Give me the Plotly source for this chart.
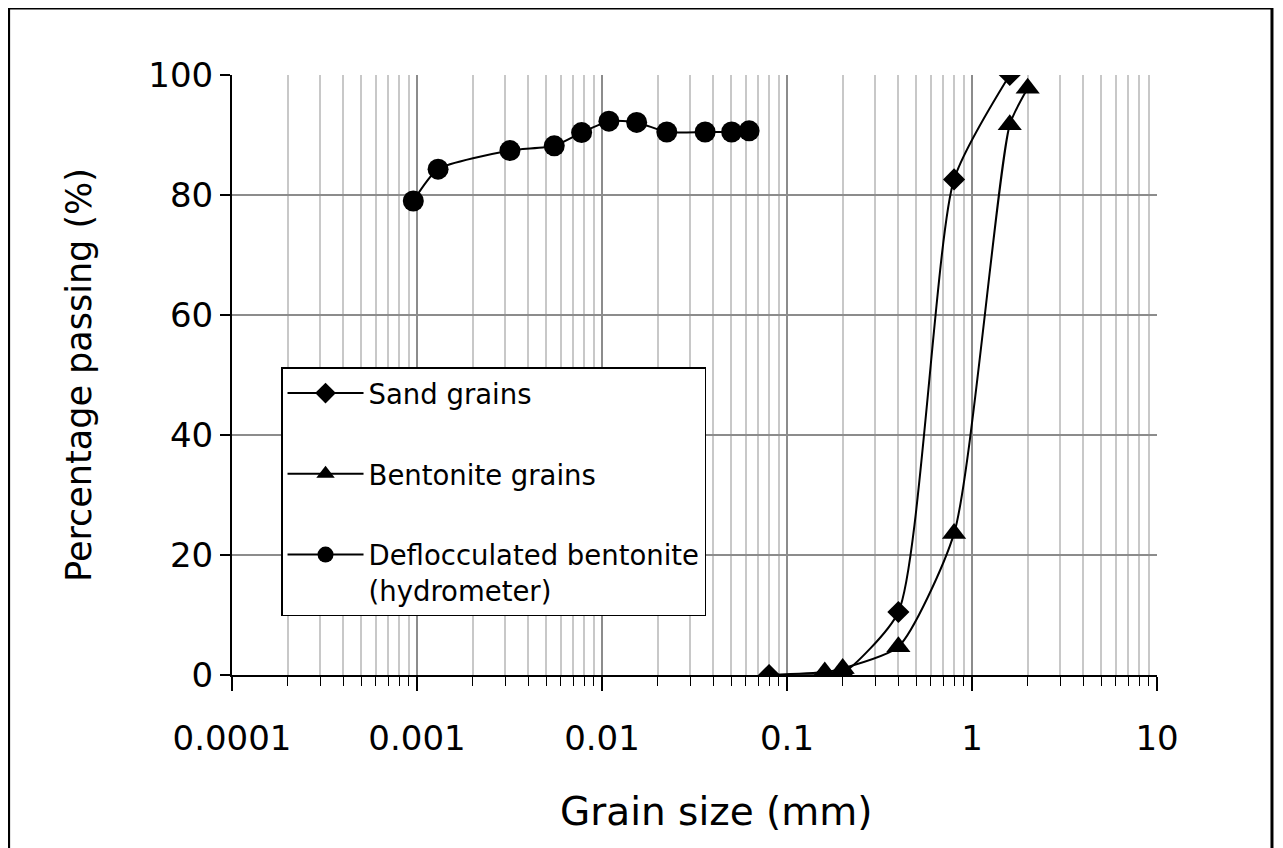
import plotly.graph_objects as go

# ---- data ----
sand_size = [0.08, 0.16, 0.2, 0.4, 0.8, 1.6]
sand_pass = [0.0, 0.0, 0.3, 10.5, 82.6, 100.0]

bent_size = [0.08, 0.16, 0.2, 0.4, 0.8, 1.6, 2.0]
bent_pass = [0.0, 0.5, 1.1, 4.7, 23.6, 91.7, 97.8]

hydro_size = [0.000955, 0.0013, 0.00318, 0.00552, 0.00776, 0.0109, 0.0154,
              0.0224, 0.0361, 0.0502, 0.0624]
hydro_pass = [79.0, 84.3, 87.4, 88.2, 90.4, 92.3, 92.1, 90.5, 90.5, 90.5, 90.7]

x_tickvals = [0.0001, 0.001, 0.01, 0.1, 1, 10]
x_ticktext = ["0.0001", "0.001", "0.01", "0.1", "1", "10"]
y_tickvals = [0, 20, 40, 60, 80, 100]

FONT = "DejaVu Sans"
SMOOTH = 0.6

fig = go.Figure()
fig.add_trace(go.Scatter(
    x=sand_size, y=sand_pass, name="Sand grains", mode="lines+markers",
    line=dict(color="black", width=2, shape="spline", smoothing=SMOOTH),
    marker=dict(symbol="diamond", size=17, color="black"),
    legendgroup="a"))
fig.add_trace(go.Scatter(
    x=bent_size, y=bent_pass, name="Bentonite grains", mode="lines+markers",
    line=dict(color="black", width=2, shape="spline", smoothing=SMOOTH),
    marker=dict(symbol="triangle-up", size=21, color="black"),
    legendgroup="b"))
fig.add_trace(go.Scatter(
    x=hydro_size, y=hydro_pass, name="Deflocculated bentonite<br>(hydrometer)",
    mode="lines+markers",
    line=dict(color="black", width=2, shape="spline", smoothing=SMOOTH),
    marker=dict(symbol="circle", size=21, color="black"),
    legendgroup="c"))

fig.update_layout(
    width=1275, height=840,
    margin=dict(l=224, r=126, t=67, b=173),
    paper_bgcolor="white", plot_bgcolor="white",
    font=dict(family=FONT, color="black", size=34),
    showlegend=True,
    legend=dict(
        x=0.053, y=0.513, xanchor="left", yanchor="top",
        bordercolor="black", borderwidth=1.5, bgcolor="white",
        font=dict(family=FONT, size=27.5, color="black"),
        traceorder="grouped", tracegroupgap=42, itemwidth=76, valign="top",
    ),
    shapes=[dict(type="rect", xref="paper", yref="paper",
                 x0=-0.2415, x1=1.1243, y0=-0.32, y1=1.1115,
                 line=dict(color="black", width=3), layer="above")],
    annotations=[dict(text="Grain size (mm)", xref="paper", yref="paper",
                      x=0.5238, y=-0.228, xanchor="center", yanchor="middle",
                      showarrow=False, font=dict(family=FONT, size=39, color="black"))],
)

fig.update_xaxes(
    type="log", range=[-4, 1],
    tickvals=x_tickvals, ticktext=x_ticktext,
    ticks="outside", ticklen=14, tickwidth=1.5, tickcolor="black",
    showline=True, linecolor="black", linewidth=2,
    showgrid=True, gridcolor="#8c8c8c", gridwidth=1.5,
    tickfont=dict(family=FONT, size=34),
    ticklabelstandoff=18,
    minor=dict(dtick="D1", ticks="outside", ticklen=9, tickwidth=1.2,
               tickcolor="black", showgrid=True, gridcolor="#c8c8c8", gridwidth=1.5),
    zeroline=False,
)
fig.update_yaxes(
    range=[0, 100], tickvals=y_tickvals,
    ticks="outside", ticklen=10, tickwidth=1.5, tickcolor="black",
    showline=True, linecolor="black", linewidth=2,
    showgrid=True, gridcolor="#8c8c8c", gridwidth=1.5,
    tickfont=dict(family=FONT, size=34),
    ticklabelstandoff=0,
    title=dict(text="Percentage passing (%)", font=dict(family=FONT, size=35), standoff=46),
    zeroline=False,
)

fig.write_html("out.html")
